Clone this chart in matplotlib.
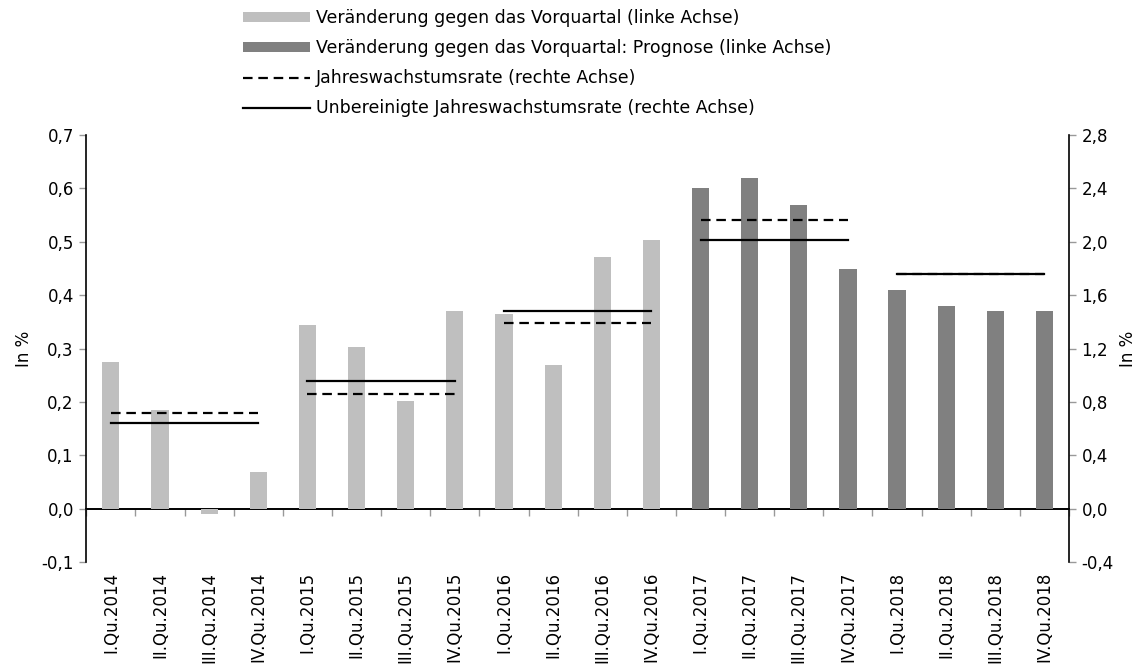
import matplotlib.pyplot as plt
import numpy as np
from matplotlib.ticker import FuncFormatter, MultipleLocator

# Quartale 2014-2018
quarters = []
for year in range(2014, 2019):
    for q in ["I", "II", "III", "IV"]:
        quarters.append(f"{q}.Qu.{year}")

# Veränderung gegen das Vorquartal (linke Achse), 2014-2016 Ist, 2017-2018 Prognose
change_actual = [0.275, 0.185, -0.010, 0.069,
                 0.344, 0.302, 0.202, 0.371,
                 0.365, 0.270, 0.472, 0.503]
change_forecast = [0.600, 0.620, 0.569, 0.449,
                   0.410, 0.380, 0.371, 0.371]

# Jahreswerte (rechte Achse)
years = [2014, 2015, 2016, 2017, 2018]
annual_rate = [0.72, 0.86, 1.39, 2.16, 1.76]
annual_rate_unadj = [0.64, 0.96, 1.48, 2.01, 1.76]

plt.rcParams['font.family'] = ['DejaVu Sans']
plt.rcParams['font.size'] = 12

fig = plt.figure(figsize=(11.48, 6.7), dpi=100)
ax = fig.add_axes([0.0752, 0.1612, 0.856, 0.6373])

x = np.arange(len(quarters))
n_act = len(change_actual)
ax.bar(x[:n_act], change_actual, width=0.35, color='#BFBFBF',
       label='Veränderung gegen das Vorquartal (linke Achse)')
ax.bar(x[n_act:], change_forecast, width=0.35, color='#808080',
       label='Veränderung gegen das Vorquartal: Prognose (linke Achse)')

ax.set_xlim(-0.5, len(quarters) - 0.5)
ax.set_ylim(-0.1, 0.7)

ax2 = ax.twinx()
ax2.set_ylim(-0.4, 2.8)
for i, year in enumerate(years):
    start = 4 * i
    ax2.plot([start, start + 3], [annual_rate_unadj[i]] * 2, color='black', lw=1.6,
             label='Unbereinigte Jahreswachstumsrate (rechte Achse)' if i == 0 else None)
    ax2.plot([start, start + 3], [annual_rate[i]] * 2, color='black', lw=1.6,
             ls=(0, (4.3, 2.6)),
             label='Jahreswachstumsrate (rechte Achse)' if i == 0 else None)

# Spines
for s in ['top', 'bottom', 'right']:
    ax.spines[s].set_visible(False)
for s in ['top', 'bottom', 'left']:
    ax2.spines[s].set_visible(False)
ax.spines['left'].set_linewidth(1.2)
ax2.spines['right'].set_linewidth(1.2)

# Nulllinie mit Kategorie-Trennstrichen
sec = ax.secondary_xaxis(0.125)
sec.set_xticks(np.arange(-0.5, len(quarters), 1))
sec.tick_params(length=5, width=1, color='#999999', labelbottom=False)
sec.spines['bottom'].set_linewidth(1.4)

ax.set_xticks(x, quarters, rotation=90)
ax.tick_params(axis='x', length=0, pad=7, labelsize=12)

def komma(v, pos):
    if abs(v) < 1e-9:
        v = 0.0
    return f"{v:.1f}".replace('.', ',')

ax.yaxis.set_major_locator(MultipleLocator(0.1))
ax.yaxis.set_major_formatter(FuncFormatter(komma))
ax2.yaxis.set_major_locator(MultipleLocator(0.4))
ax2.yaxis.set_major_formatter(FuncFormatter(komma))
ax.tick_params(axis='y', length=5, width=1, color='#999999', pad=4)
ax2.tick_params(axis='y', length=5, width=1, color='#999999', pad=4)

ax.set_ylabel('In %', labelpad=6)
ax2.set_ylabel('In %', labelpad=4)

h1, l1 = ax.get_legend_handles_labels()
h2, l2 = ax2.get_legend_handles_labels()
handles = h1 + [h2[1], h2[0]]
labels = l1 + [l2[1], l2[0]]
fig.legend(handles, labels, loc='upper left', bbox_to_anchor=(243 / 1148, 1 - 9 / 670),
           frameon=False, fontsize=12.5, handlelength=3.85, handleheight=0.57,
           labelspacing=0.7, handletextpad=0.35, borderpad=0, borderaxespad=0)

fig.savefig('out.png', dpi=100)
